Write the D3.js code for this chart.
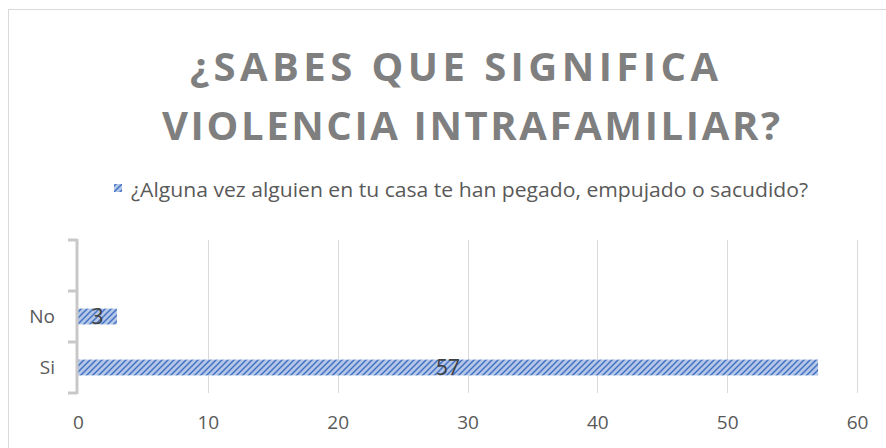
<!DOCTYPE html>
<html>
<head>
<meta charset="utf-8">
<script src="https://cdn.jsdelivr.net/npm/d3@7"></script>
<style>
  body { margin: 0; background: #fff; }
  text { font-family: "Open Sans", "Noto Sans", sans-serif; }
</style>
</head>
<body>
<svg width="886" height="448"></svg>
<script>
// data
const categories = ['', 'No', 'Si']
const values = [null, 3, 57]
const xTicks = [0, 10, 20, 30, 40, 50, 60]
const titleLines = ['¿SABES QUE SIGNIFICA', 'VIOLENCIA INTRAFAMILIAR?']
const seriesName = '¿Alguna vez alguien en tu casa te han pegado, empujado o sacudido?'

const svg = d3.select('svg')

// hatch pattern for bars
const defs = svg.append('defs')
const pat = defs.append('pattern')
  .attr('id', 'hatch')
  .attr('patternUnits', 'userSpaceOnUse')
  .attr('width', 6)
  .attr('height', 6)
pat.append('rect').attr('width', 6).attr('height', 6).attr('fill', '#b4c7e7')
pat.append('path')
  .attr('d', 'M0,6 L6,0 M-1,1 L1,-1 M5,7 L7,5')
  .attr('stroke', '#4472c4')
  .attr('stroke-width', 1.5)

// chart frame
svg.append('rect')
  .attr('x', 8.5).attr('y', 9.5)
  .attr('width', 900).attr('height', 500)
  .attr('fill', 'none')
  .attr('stroke', '#d9d9d9')

// title
const title = svg.append('g')
title.selectAll('text')
  .data(titleLines)
  .enter()
  .append('text')
  .attr('x', (d, i) => (i === 0 ? 190 : 162))
  .attr('y', (d, i) => 81 + i * 59)
  .attr('textLength', (d, i) => (i === 0 ? 528 : 618))
  .attr('lengthAdjust', 'spacing')
  .attr('font-size', 40)
  .attr('font-weight', 700)
  .attr('fill', '#7f7f7f')
  .text(d => d)

// legend
svg.append('rect')
  .attr('x', 114).attr('y', 184)
  .attr('width', 8).attr('height', 8)
  .attr('fill', 'url(#hatch)')
svg.append('text')
  .attr('x', 131).attr('y', 197)
  .attr('font-size', 19.5)
  .attr('fill', '#595959')
  .attr('textLength', 677)
  .attr('lengthAdjust', 'spacingAndGlyphs')
  .text(seriesName)

// scales
const x = d3.scaleLinear().domain([0, 60]).range([78, 857])
const y = d3.scaleBand().domain(categories).range([240, 393]).padding(0)
const barH = y.bandwidth() * 0.31

// grid
svg.append('g')
  .selectAll('line')
  .data(xTicks.slice(1))
  .enter()
  .append('line')
  .attr('x1', d => Math.round(x(d)) + 0.5)
  .attr('x2', d => Math.round(x(d)) + 0.5)
  .attr('y1', 240)
  .attr('y2', 393)
  .attr('stroke', '#d9d9d9')

const rows = categories.map((c, i) => ({ cat: c, value: values[i] })).filter(d => d.value != null)

// bars
svg.append('g')
  .selectAll('rect')
  .data(rows)
  .enter()
  .append('rect')
  .attr('x', x(0))
  .attr('y', d => y(d.cat) + (y.bandwidth() - barH) / 2)
  .attr('width', d => x(d.value) - x(0))
  .attr('height', barH)
  .attr('fill', 'url(#hatch)')

// value labels
svg.append('g')
  .selectAll('text')
  .data(rows)
  .enter()
  .append('text')
  .attr('x', d => (x(0) + x(d.value)) / 2)
  .attr('y', d => y(d.cat) + y.bandwidth() / 2)
  .attr('dy', '0.36em')
  .attr('text-anchor', 'middle')
  .attr('font-size', 21)
  .attr('fill', '#404040')
  .text(d => d.value)

// category axis
const yAxis = svg.append('g')
  .attr('transform', 'translate(77,0)')
  .call(d3.axisLeft(y).tickSize(0).tickFormat(d => d))
yAxis.select('.domain').remove()
yAxis.selectAll('text')
  .attr('x', -22)
  .attr('font-size', 19)
  .attr('fill', '#595959')
  .style('font-family', '"Open Sans", sans-serif')

svg.append('line')
  .attr('x1', 77).attr('x2', 77)
  .attr('y1', 239).attr('y2', 394)
  .attr('stroke', '#c8c8c8')
  .attr('stroke-width', 3)
svg.append('g')
  .selectAll('line')
  .data(categories.map(c => y(c)).concat([393]))
  .enter()
  .append('line')
  .attr('x1', 68).attr('x2', 77)
  .attr('y1', d => d).attr('y2', d => d)
  .attr('stroke', '#c8c8c8')
  .attr('stroke-width', 3)

// value axis labels
const xAxis = svg.append('g')
  .attr('transform', 'translate(0,393)')
  .call(d3.axisBottom(x).tickValues(xTicks).tickSize(0).tickPadding(23))
xAxis.select('.domain').remove()
xAxis.selectAll('text')
  .attr('font-size', 19)
  .attr('fill', '#595959')
  .style('font-family', '"Open Sans", sans-serif')
</script>
</body>
</html>
